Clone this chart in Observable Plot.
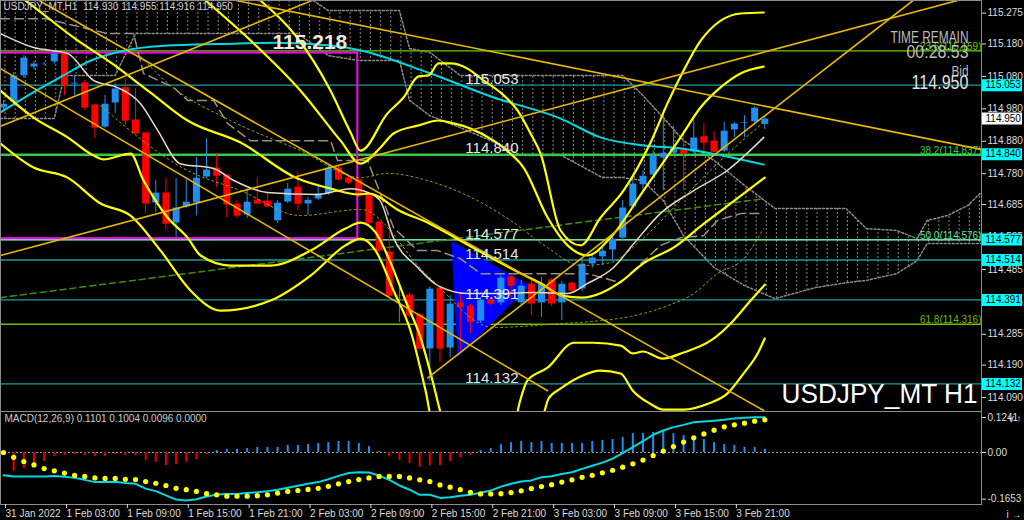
<!DOCTYPE html>
<html><head><meta charset="utf-8">
<script src="https://cdn.jsdelivr.net/npm/d3@7"></script>
<script src="https://cdn.jsdelivr.net/npm/@observablehq/plot@0.6"></script>
<style>
body{margin:0;background:#000;width:1024px;height:520px;overflow:hidden;font-family:"Liberation Sans",Arial,sans-serif}
svg{display:block}
</style></head><body><div id="main"></div><div id="macd"></div>
<script>
// ---------- data (bar index 0 = 31 Jan 21:00, H1 bars) ----------
const timeLabels = ["31 Jan 2022","1 Feb 03:00","1 Feb 09:00","1 Feb 15:00","1 Feb 21:00","2 Feb 03:00","2 Feb 09:00","2 Feb 15:00","2 Feb 21:00","3 Feb 03:00","3 Feb 09:00","3 Feb 15:00","3 Feb 21:00"];
const timeTickBars = [0,6,12,18,24,30,36,42,48,54,60,66,72];

const opens  = [114.981,115.000,115.080,115.107,115.117,115.123,115.151,115.055,115.058,114.990,114.922,114.996,115.043,114.944,114.904,114.688,114.719,114.626,114.676,114.688,114.768,114.796,114.774,114.685,114.651,114.697,114.694,114.633,114.691,114.737,114.685,114.700,114.716,114.796,114.765,114.759,114.713,114.629,114.537,114.401,114.404,114.343,114.238,114.426,114.241,114.380,114.370,114.324,114.389,114.380,114.460,114.380,114.438,114.380,114.451,114.380,114.441,114.423,114.500,114.522,114.543,114.580,114.676,114.744,114.774,114.827,114.842,114.851,114.845,114.892,114.879,114.848,114.913,114.936,114.938,114.930];
const highs  = [115.006,115.092,115.144,115.126,115.123,115.160,115.154,115.083,115.067,114.993,115.021,115.058,115.074,115.043,114.907,114.759,114.765,114.765,114.765,114.830,114.888,114.842,114.777,114.697,114.734,114.768,114.722,114.697,114.750,114.784,114.707,114.744,114.805,114.805,114.771,114.765,114.719,114.636,114.605,114.441,114.411,114.349,114.432,114.432,114.404,114.411,114.377,114.398,114.395,114.466,114.466,114.451,114.451,114.460,114.457,114.448,114.444,114.518,114.531,114.552,114.586,114.697,114.771,114.790,114.851,114.978,114.926,114.913,114.947,114.935,114.910,114.938,114.938,114.959,114.987,114.955];
const lows   = [114.969,114.990,115.074,115.101,115.114,115.117,115.021,115.021,114.975,114.888,114.919,114.966,114.929,114.901,114.657,114.660,114.605,114.583,114.673,114.651,114.765,114.737,114.645,114.642,114.642,114.685,114.676,114.626,114.688,114.666,114.651,114.697,114.713,114.759,114.747,114.707,114.623,114.537,114.398,114.321,114.337,114.235,114.140,114.198,114.213,114.235,114.287,114.318,114.374,114.374,114.389,114.374,114.343,114.337,114.370,114.327,114.414,114.417,114.488,114.497,114.512,114.574,114.673,114.728,114.768,114.728,114.836,114.728,114.842,114.842,114.845,114.845,114.892,114.892,114.935,114.916];
const closes = [114.996,115.083,115.138,115.120,115.120,115.151,115.052,115.061,114.984,114.922,114.996,115.043,114.944,114.904,114.688,114.722,114.626,114.676,114.694,114.768,114.793,114.774,114.685,114.651,114.694,114.688,114.679,114.691,114.734,114.688,114.700,114.719,114.799,114.762,114.753,114.713,114.629,114.543,114.404,114.404,114.343,114.241,114.426,114.241,114.380,114.370,114.324,114.392,114.380,114.460,114.435,114.435,114.380,114.441,114.380,114.441,114.420,114.503,114.522,114.543,114.580,114.676,114.750,114.774,114.836,114.845,114.858,114.842,114.892,114.876,114.848,114.913,114.935,114.938,114.984,114.950];

// MACD panel
const macdLine   = [-0.081,-0.085,-0.085,-0.085,-0.085,-0.083,-0.086,-0.090,-0.097,-0.105,-0.105,-0.104,-0.108,-0.111,-0.128,-0.137,-0.152,-0.167,-0.170,-0.166,-0.156,-0.149,-0.147,-0.147,-0.144,-0.141,-0.137,-0.132,-0.125,-0.118,-0.111,-0.105,-0.095,-0.083,-0.073,-0.070,-0.071,-0.082,-0.097,-0.117,-0.132,-0.150,-0.150,-0.161,-0.159,-0.153,-0.150,-0.143,-0.135,-0.121,-0.111,-0.103,-0.099,-0.088,-0.084,-0.076,-0.070,-0.058,-0.047,-0.036,-0.022,-0.002,0.019,0.040,0.063,0.078,0.090,0.098,0.107,0.110,0.113,0.116,0.121,0.123,0.125,0.125];
const signalLine = [0.000,-0.017,-0.032,-0.044,-0.057,-0.065,-0.073,-0.081,-0.085,-0.090,-0.092,-0.092,-0.095,-0.096,-0.103,-0.109,-0.117,-0.127,-0.132,-0.138,-0.146,-0.150,-0.155,-0.155,-0.155,-0.153,-0.150,-0.144,-0.138,-0.135,-0.131,-0.127,-0.120,-0.111,-0.103,-0.096,-0.090,-0.085,-0.085,-0.085,-0.090,-0.097,-0.103,-0.115,-0.123,-0.132,-0.141,-0.147,-0.147,-0.146,-0.142,-0.136,-0.128,-0.121,-0.114,-0.105,-0.097,-0.088,-0.081,-0.072,-0.063,-0.052,-0.040,-0.027,-0.011,0.005,0.021,0.037,0.052,0.066,0.079,0.091,0.098,0.104,0.111,0.116];
const histogram  = [-0.007,-0.067,-0.057,-0.039,-0.032,-0.014,-0.011,-0.007,-0.011,-0.014,-0.014,-0.007,-0.011,-0.011,-0.028,-0.035,-0.046,-0.043,-0.035,-0.025,-0.007,0.007,0.011,0.011,0.014,0.018,0.018,0.018,0.025,0.025,0.028,0.032,0.035,0.039,0.039,0.032,0.021,0.004,-0.014,-0.028,-0.039,-0.053,-0.046,-0.046,-0.032,-0.018,-0.011,0.007,0.014,0.028,0.035,0.039,0.035,0.039,0.032,0.032,0.032,0.032,0.039,0.043,0.046,0.053,0.067,0.067,0.071,0.075,0.067,0.060,0.057,0.046,0.035,0.028,0.025,0.018,0.018,0.011];
const macdTicks = [0.1241, 0, -0.1653];
const macdTickLabels = ["0.1241","0.00","-0.1653"];

const priceTicks = [115.275,115.180,115.080,114.980,114.880,114.780,114.685,114.585,114.485,114.385,114.285,114.190,114.090];

// horizontal levels drawn on the chart
const levelPrices = [115.053,114.840,114.577,114.514,114.391,114.132];
const levelColors = ["#1a9c9c","#33cc44","#66e0a0","#1a9c9c","#1a9c9c","#1a9c9c"];
const levelLabelBar = 45.5;
// Fibonacci retracement levels
const fibPercents = ["23.6","38.2","50.0","61.8"];
const fibPrices = [115.159,114.837,114.576,114.316];
const fibColors = ["#66cc00","#33cc44","#66e0a0","#77bb00"];
// moving averages, read at bar positions
const cyanMA  = [[-0.3,114.969],[3.6,115.043],[5.9,115.083],[8.6,115.129],[11.5,115.157],[16.2,115.175],[22.7,115.181],[27.0,115.184],[32.2,115.175],[35.2,115.160],[41.8,115.092],[48.3,115.015],[54.9,114.950],[58.8,114.892],[63.1,114.867],[66.7,114.858],[74.9,114.808]];
const beigeMA = [[-0.3,115.212],[2.96,115.169],[6.3,115.151],[8.9,115.067],[11.2,115.046],[13.5,114.996],[15.2,114.913],[17.4,114.811],[20.7,114.796],[22.7,114.759],[26.0,114.722],[30.9,114.716],[34.2,114.734],[35.9,114.722],[37.1,114.697],[38.4,114.583],[40.8,114.491],[42.8,114.435],[45.7,114.411],[49.0,114.411],[52.2,114.414],[55.6,114.411],[57.5,114.441],[60.1,114.491],[62.1,114.565],[64.7,114.657],[68.0,114.728],[71.3,114.790],[74.9,114.892]];
const kijun = [[-0.3,115.258],[4.14,115.258],[10.25,115.212],[12.81,115.212],[13.79,115.089],[16.75,115.046],[18.13,115.006],[20.69,115.006],[22.07,114.935],[24.33,114.882],[32.22,114.882],[32.91,114.821],[35.86,114.821],[38.42,114.614],[40.79,114.543],[42.76,114.543],[45.02,114.518],[47.0,114.472],[57.54,114.472],[60.79,114.444],[64.73,114.559],[66.70,114.583],[68.97,114.589],[70.34,114.636],[72.61,114.657],[74.88,114.657]];
// Bollinger lines
const bbMid = [[-0.3,115.370],[2.17,115.314],[7.29,115.191],[10.54,115.123],[14.48,115.030],[18.13,114.944],[23.35,114.876],[28.97,114.765],[32.22,114.734],[34.98,114.716],[36,114.719],[39,114.666],[42,114.626],[45,114.574],[48,114.522],[51,114.472],[53,114.441],[55,114.404],[57,114.398],[59,114.414],[61,114.451],[63,114.503],[66,114.552],[69,114.626],[72,114.697],[75,114.768]];
const bbUp3 = [[25.3,115.314],[28.77,115.206],[32.22,115.036],[34.19,114.907],[35.17,114.851],[37.83,114.966],[39.41,115.015],[40.89,115.080],[41.87,115.083],[42.86,115.120],[44.04,115.120],[45.71,115.104],[47.29,115.067],[48.97,115.030],[50.64,114.975],[51.92,114.904],[52.91,114.842],[54.88,114.605],[56.85,114.559],[58.82,114.645],[61.08,114.728],[63.7,114.873],[65.4,114.996],[67.0,115.098],[68.7,115.191],[72.6,115.274],[74.9,115.277]];
const bbUp2 = [[19.9,115.314],[24.33,115.191],[29.26,115.036],[33.2,114.882],[35.17,114.811],[37.14,114.861],[38.42,114.904],[40.89,114.929],[42.86,114.944],[44.33,114.935],[46.01,114.919],[48.28,114.882],[49.95,114.842],[51.23,114.799],[53.60,114.645],[55.57,114.559],[57.54,114.528],[59.80,114.583],[63.05,114.728],[66.70,114.892],[68.67,114.984],[70.64,115.046],[72.61,115.089],[74.88,115.110]];
const bbLo2 = [[-0.3,115.036],[2.96,114.953],[6.31,114.892],[8.87,114.836],[9.85,114.824],[12.51,114.842],[13.79,114.759],[14.78,114.707],[16.16,114.645],[18.13,114.583],[19.41,114.528],[22.36,114.497],[26.31,114.497],[30.25,114.543],[33.69,114.611],[35.17,114.629],[36.65,114.599],[38.13,114.506],[39.6,114.389],[41.08,114.275],[42.27,114.142],[43.05,114.044],[43.6,113.988],[50.1,113.988],[50.9,114.081],[51.6,114.142],[53.6,114.182],[56.2,114.259],[58.1,114.259],[60.8,114.250],[62.0,114.226],[63.0,114.232],[64.9,114.210],[67.0,114.229],[69.7,114.266],[71.9,114.327],[73.6,114.389],[75.0,114.438]];
const bbLo3 = [[-0.3,114.873],[2.96,114.799],[6.31,114.768],[9.56,114.688],[12.51,114.651],[15.47,114.543],[18.42,114.420],[21.38,114.358],[26.31,114.389],[30.25,114.466],[33.69,114.559],[35.17,114.580],[36.65,114.543],[38.42,114.420],[40.1,114.296],[41.58,114.111],[42.27,114.019],[52.9,114.019],[53.7,114.087],[54.9,114.118],[56.85,114.155],[58.8,114.173],[60.8,114.164],[62.0,114.111],[63.7,114.071],[65.0,114.053],[67.0,114.053],[69.4,114.071],[71.3,114.102],[72.9,114.164],[74.3,114.226],[75.0,114.272]];
const bbUp1 = [[12.5,115.175],[16.45,115.052],[22.36,114.944],[29.26,114.851],[35.17,114.768],[37.83,114.781],[41.77,114.759],[46.70,114.697],[49.95,114.636],[53.60,114.552],[56.85,114.497],[59.80,114.506],[62.76,114.574],[66.70,114.697],[70.64,114.821],[74.88,114.938]];
const bbLo1 = [[9.56,114.990],[18.13,114.790],[23.35,114.728],[29.26,114.651],[35.17,114.670],[41.77,114.466],[48.28,114.306],[54.88,114.318],[58.82,114.327],[61.77,114.340],[65.42,114.373],[67.98,114.410],[70.34,114.472],[72.91,114.518],[74.88,114.611]];
// trend lines [bar1, price1, bar2, price2]
const trendLines = [[-0.3,114.528,94.0,115.314],[-0.3,114.926,30.4,115.314],[41.8,114.151,89.6,115.314],[22.9,115.314,96.3,114.855],[3.5,115.314,74.9,114.050],[-0.3,115.104,53.6,114.111]];
const greenDashed = [[-0.3,114.398],[74.9,114.703]];
// ichimoku cloud: bar, span A, span B
const cloud = [[-0.3,115.345,114.950],[5,115.345,114.950],[6,115.345,115.083],[11,115.345,115.083],[13,115.345,115.212],[29,115.345,115.212],[32,115.283,115.144],[35,115.283,115.129],[39,115.283,115.129],[40,115.166,115.006],[42,115.154,114.959],[45,115.083,114.922],[48,115.083,114.882],[51,115.083,114.836],[55,115.083,114.836],[59,115.083,114.768],[61,115.083,114.768],[63,115.021,114.759],[65,114.953,114.697],[67,114.882,114.589],[70,114.821,114.491],[73,114.744,114.435],[76,114.673,114.395],[80,114.673,114.429],[83,114.673,114.444],[85,114.611,114.451],[88,114.605,114.472],[90,114.580,114.512],[91,114.636,114.565],[93,114.651,114.565],[95,114.682,114.565],[96.3,114.722,114.565]];
const magentaBox = [{b1:-2, b2:34.9, p1:114.580, p2:115.152}];
const blueTriangle = [[44.2,114.568],[44.8,114.219],[51.7,114.435],[44.2,114.568]];
const highLabel = {bar:26.5, price:115.218, text:"115.218"};

// ---------- build ----------
const bars = opens.map((o,i)=>({i,o,h:highs[i],l:lows[i],c:closes[i],up:closes[i]>=o}));
const pts = a => a.map(([i,p])=>({i,p}));
const levels = levelPrices.map((p,k)=>({p,color:levelColors[k],label:p.toFixed(3)}));
const fibs = fibPrices.map((p,k)=>({p,color:fibColors[k],label:`${fibPercents[k]}(${p.toFixed(3)})`}));
const tl = trendLines.map(([a,b,c,d],k)=>[{i:a,p:b,k},{i:c,p:d,k}]).flat();
const cl = cloud.map(([i,a,b])=>({i,a,b}));
const BLUE="#1e8ff0", RED="#ff0000", YEL="#ffff00", GOLD="#e6b800";
const xDom=[-0.3,96.35];

const main = Plot.plot({
  width:1024,height:411,marginLeft:0,marginRight:43,marginTop:0,marginBottom:0,
  style:{background:"#000",color:"#dddddd",fontSize:"10px",fontFamily:"'Liberation Sans',Arial,sans-serif"},
  x:{domain:xDom,axis:null},
  y:{domain:[114.047,115.314],axis:null},
  marks:[
    Plot.areaY(cl,{x:"i",y1:"a",y2:"b",fill:"#888888",fillOpacity:0.123,clip:true}),
    Plot.line(cl,{x:"i",y:"a",stroke:"#8a8a8a",strokeDasharray:"2,2",clip:true}),
    Plot.line(cl,{x:"i",y:"b",stroke:"#8a8a8a",strokeDasharray:"2,2",clip:true}),
    Plot.ruleY(levels,{y:"p",stroke:"color",strokeWidth:1.3}),
    Plot.ruleY(fibs,{y:"p",stroke:"color",strokeWidth:1.3}),
    Plot.text(fibs,{y:"p",text:"label",frameAnchor:"right",textAnchor:"end",lineAnchor:"bottom",dy:-1,fill:"color",fontSize:10}),
    Plot.rect(magentaBox,{x1:"b1",x2:"b2",y1:"p1",y2:"p2",stroke:"#ff00ff",strokeWidth:2,fill:"none",clip:true}),
    Plot.line(pts(blueTriangle),{x:"i",y:"p",fill:"#0000ff",stroke:"#0000ff"}),
    Plot.line(pts(greenDashed),{x:"i",y:"p",stroke:"#3f8f00",strokeDasharray:"6,4"}),
    Plot.line(pts(kijun),{x:"i",y:"p",stroke:"#9c8f80",strokeWidth:1.5,strokeDasharray:"9,5",clip:true}),
    Plot.ruleX(bars,{x:"i",y1:"l",y2:"h",stroke:d=>d.up?BLUE:RED,strokeWidth:1}),
    Plot.ruleX(bars,{x:"i",y1:"o",y2:"c",stroke:d=>d.up?BLUE:RED,strokeWidth:7,insetTop:-0.6,insetBottom:-0.6}),
    Plot.line(pts(cyanMA),{x:"i",y:"p",stroke:"#00d8e0",strokeWidth:2,curve:"monotone-x",clip:true}),
    Plot.line(pts(beigeMA),{x:"i",y:"p",stroke:"#e8d8c8",strokeWidth:1.5,curve:"monotone-x",clip:true}),
    ...[bbUp1,bbLo1].map(a=>Plot.line(pts(a),{x:"i",y:"p",stroke:"#a0a000",strokeWidth:1,strokeDasharray:"2,3",curve:"monotone-x",clip:true})),
    ...[bbMid,bbUp2,bbUp3,bbLo2,bbLo3].map(a=>Plot.line(pts(a),{x:"i",y:"p",stroke:YEL,strokeWidth:2.2,curve:"monotone-x",clip:true})),
    Plot.line(tl,{x:"i",y:"p",z:"k",stroke:GOLD,strokeWidth:1.6,clip:true}),
    Plot.text(levels,{x:()=>levelLabelBar,y:"p",text:"label",textAnchor:"start",lineAnchor:"bottom",dy:-1,fill:"#e6e6e6",fontSize:15}),
    Plot.text([highLabel],{x:"bar",y:"price",text:"text",textAnchor:"start",lineAnchor:"top",dy:2,fill:"#f2e8d8",fontSize:21,fontWeight:"bold"}),
    Plot.frame({stroke:"#8c8c8c"}),
    Plot.axisY({anchor:"right",ticks:priceTicks,tickFormat:d=>d.toFixed(3),tickSize:4,tickPadding:2,fontSize:10}),
    Plot.ruleY(levels,{y:"p",stroke:"#00ffff",strokeWidth:12,insetLeft:982,insetRight:-41}),
    Plot.text(levels,{y:"p",text:"label",frameAnchor:"right",textAnchor:"start",dx:4,fill:"#000",fontSize:10}),
    Plot.ruleY([closes[closes.length-1]],{y:d=>d,stroke:"#ffffff",strokeWidth:12,insetLeft:982,insetRight:-41}),
    Plot.text([closes[closes.length-1]],{y:d=>d,text:d=>d.toFixed(3),frameAnchor:"right",textAnchor:"start",dx:4,fill:"#000",fontSize:10}),
    Plot.text(["USDJPY_MT,H1  114.930 114.955 114.916 114.950"],{frameAnchor:"top-left",dx:3,dy:2,fill:"#cccccc",fontSize:10}),
    Plot.text(["TIME REMAIN"],{frameAnchor:"top-right",dx:-13,dy:31,fill:"#bdbdbd",fontSize:16.5}),
    Plot.text(["00:28:53"],{frameAnchor:"top-right",dx:-13,dy:44,fill:"#bdbdbd",fontSize:18.5}),
    Plot.text(["Bid"],{frameAnchor:"top-right",dx:-13,dy:64,fill:"#bdbdbd",fontSize:15.5}),
    Plot.text(["114.950"],{frameAnchor:"top-right",dx:-13,dy:75,fill:"#e0e0e0",fontSize:19.5}),
    Plot.text(["USDJPY_MT H1"],{frameAnchor:"bottom-right",dx:-4,dy:-9,fill:"#ffffff",fontSize:28.5})
  ]
});
document.getElementById("main").append(main);

// hatch pattern for cloud
const svgm = d3.select(main);
const defs = svgm.insert("defs",":first-child");
const pat = defs.append("pattern").attr("id","hatch").attr("patternUnits","userSpaceOnUse").attr("width",10.15).attr("height",4);
pat.append("line").attr("x1",5).attr("x2",5).attr("y1",0).attr("y2",2).attr("stroke","#8a8a8a").attr("stroke-width",1);
svgm.selectAll("path").filter(function(){return this.getAttribute("fill-opacity")==="0.123" || (this.parentNode && this.parentNode.getAttribute && this.parentNode.getAttribute("fill-opacity")==="0.123");}).attr("fill","url(#hatch)").attr("fill-opacity",1);
svgm.selectAll("g").filter(function(){return this.getAttribute("fill-opacity")==="0.123";}).attr("fill","url(#hatch)").attr("fill-opacity",1);
// condensed MT4-style overlay texts
const fit = {"16.5":78,"18.5":62,"15.5":17,"19.5":57,"28.5":196};
svgm.selectAll("text").each(function(){
  const g=this.closest("g"); const fs=(this.getAttribute("font-size")||(g&&g.getAttribute("font-size"))||"");
  if(fit[fs]){this.setAttribute("textLength",fit[fs]);this.setAttribute("lengthAdjust","spacingAndGlyphs");}
});

const macdPts = macdLine.map((v,i)=>({i,v}));
const sigPts = signalLine.map((v,i)=>({i,v}));
const histPts = histogram.map((v,i)=>({i,v}));
const macd = Plot.plot({
  width:1024,height:109,marginLeft:0,marginRight:43,marginTop:0,marginBottom:16,
  style:{background:"#000",color:"#dddddd",fontSize:"10px",fontFamily:"'Liberation Sans',Arial,sans-serif"},
  x:{domain:xDom,axis:null},
  y:{domain:[-0.1844,0.1454],axis:null},
  marks:[
    Plot.ruleY([0],{stroke:"#a0a0a0",strokeDasharray:"2,2"}),
    Plot.ruleX(histPts,{x:"i",y1:0,y2:"v",stroke:d=>d.v>=0?BLUE:"#e00000",strokeWidth:2}),
    Plot.line(macdPts,{x:"i",y:"v",stroke:"#00d8e0",strokeWidth:2}),
    Plot.dot(sigPts,{x:"i",y:"v",r:2.6,fill:YEL}),
    Plot.frame({stroke:"#8c8c8c"}),
    Plot.axisY({anchor:"right",ticks:macdTicks,tickFormat:d=>macdTickLabels[macdTicks.indexOf(d)],tickSize:4,tickPadding:2}),
    Plot.axisX({anchor:"bottom",ticks:timeTickBars,tickFormat:d=>timeLabels[timeTickBars.indexOf(d)],tickSize:4,tickPadding:1,textAnchor:"start",dx:2}),
    Plot.text(["MACD(12,26,9) 0.1101 0.1004 0.0096 0.0000"],{frameAnchor:"top-left",dx:4,dy:3,fill:"#cccccc",fontSize:10})
  ]
});
document.getElementById("macd").append(macd);
</script></body></html>
